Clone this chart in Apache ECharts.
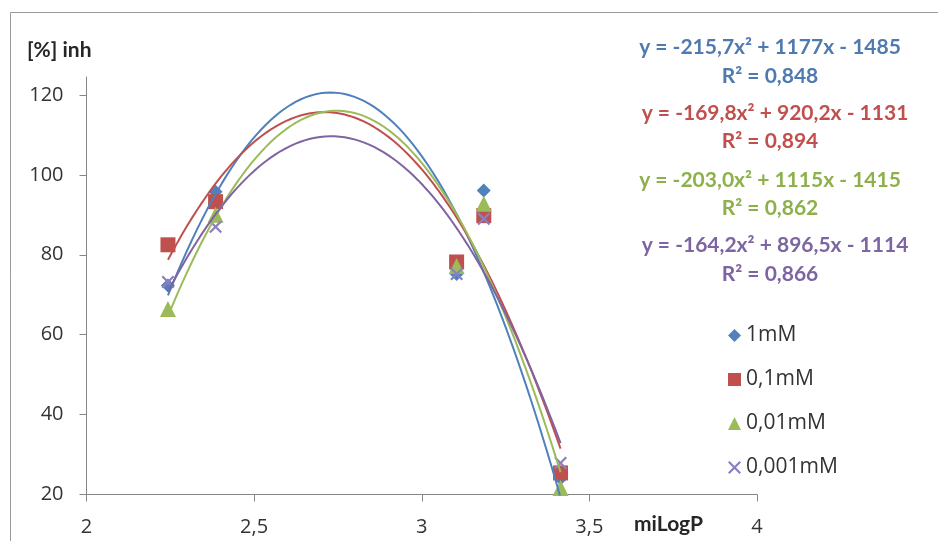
<!DOCTYPE html>
<html>
<head>
<meta charset="utf-8">
<script src="https://cdn.jsdelivr.net/npm/echarts@6/dist/echarts.min.js"></script>
<style>html,body{margin:0;padding:0;background:#fff;}#c{width:938px;height:541px;}</style>
</head>
<body>
<div id="c"></div>
<script>
// ---- data ----
const xValues = [2.243, 2.385, 3.104, 3.185, 3.414];           // miLogP
const seriesNames = ['1mM', '0,1mM', '0,01mM', '0,001mM'];
const y1mM    = [72.3, 95.8, 75.2, 96.1, 24.0];
const y01mM   = [82.5, 93.3, 78.2, 89.8, 25.4];
const y001mM  = [66.4, 90.0, 77.2, 92.8, 21.6];
const y0001mM = [73.2, 87.0, 75.2, 89.0, 27.9];
// polynomial trendline coefficients as printed on the chart: y = a x² + b x + c
const trendA = [-215.7, -169.8, -203.0, -164.2];
const trendB = [1177, 920.2, 1115, 896.5];
const trendC = [-1485, -1131, -1415, -1114];
const trendR2 = ['0,848', '0,894', '0,862', '0,866'];
const trendLabels = [
  'y = -215,7x² + 1177x - 1485',
  'y = -169,8x² + 920,2x - 1131',
  'y = -203,0x² + 1115x - 1415',
  'y = -164,2x² + 896,5x - 1114'
];
const yTicks = [20, 40, 60, 80, 100, 120];
const xTicks = [2, 2.5, 3, 3.5, 4];

const colors = ['#4F81BD', '#C0504D', '#9BBB59', '#8B7FC0'];
const lineColors = ['#4F81BD', '#C0504D', '#9BBB59', '#8064A2'];
const textColors = ['#4F7AB0', '#C0504D', '#8DB04B', '#7D64A2'];
const symbols = ['diamond', 'rect', 'triangle',
  'path://M0,1.2 L1.2,0 L10,8.8 L8.8,10 Z M8.8,0 L10,1.2 L1.2,10 L0,8.8 Z'];
const symbolSizes = [14, 15, 16, 13];
const allY = [y1mM, y01mM, y001mM, y0001mM];

const xMin = Math.min(...xValues), xMax = Math.max(...xValues);
const series = [];
allY.forEach((ys, i) => {
  series.push({
    name: seriesNames[i], type: 'scatter', z: 2,
    symbol: symbols[i], symbolSize: symbolSizes[i],
    itemStyle: { color: colors[i], opacity: 1 },
    data: xValues.map((x, j) => [x, ys[j]])
  });
});
allY.forEach((ys, i) => {
  const pts = [];
  const n = 80;
  for (let k = 0; k <= n; k++) {
    const x = xMin + (xMax - xMin) * k / n;
    pts.push([x, trendA[i] * x * x + trendB[i] * x + trendC[i]]);
  }
  series.push({
    name: 'trend' + i, type: 'line', z: 3, showSymbol: false, silent: true,
    lineStyle: { color: lineColors[i], width: 2 }, data: pts
  });
});

const eqY = [47, 76, 113, 141, 180, 208, 245, 274];
const graphics = [
  { type: 'rect', shape: { x: 10.5, y: 12.5, width: 1000, height: 600 }, style: { fill: 'none', stroke: '#9a9a9a', lineWidth: 1 }, silent: true, z: 0 },
  { type: 'text', left: 27, top: 40, style: { text: '[%] inh', font: 'bold 21px Lato', fill: '#262626' } },
  { type: 'text', left: 634, top: 514, style: { text: 'miLogP', font: 'bold 21px Lato', fill: '#262626' } }
];
trendLabels.forEach((t, i) => {
  graphics.push({ type: 'text', x: i % 2 ? 775 : 770, y: eqY[2 * i],
    style: { text: t, font: 'bold 21px Lato', fill: textColors[i], align: 'center', verticalAlign: 'middle' } });
  graphics.push({ type: 'text', x: 770, y: eqY[2 * i + 1],
    style: { text: 'R² = ' + trendR2[i], font: 'bold 21px Lato', fill: textColors[i], align: 'center', verticalAlign: 'middle' } });
});

const chart = echarts.init(document.getElementById('c'), null, { renderer: 'canvas' });
chart.setOption({
  animation: false,
  backgroundColor: '#fff',
  grid: { left: 86.5, right: 181, top: 77, bottom: 46.5 },
  xAxis: {
    type: 'value', min: 2, max: 4, interval: 0.5,
    axisLine: { lineStyle: { color: '#868686', width: 1 } },
    axisTick: { show: true, length: 7, lineStyle: { color: '#868686' } },
    axisLabel: { margin: 23, fontFamily: 'Open Sans', fontSize: 20, color: '#333',
      customValues: xTicks, formatter: v => String(v).replace('.', ',') },
    splitLine: { show: false }
  },
  yAxis: {
    type: 'value', min: 20, max: 124.5, interval: 20,
    axisLine: { show: true, lineStyle: { color: '#868686', width: 1 } },
    axisTick: { show: true, length: 7, lineStyle: { color: '#868686' }, customValues: yTicks },
    axisLabel: { margin: 23, fontFamily: 'Open Sans', fontSize: 20, color: '#333', customValues: yTicks },
    splitLine: { show: false }
  },
  legend: {
    data: [
      { name: seriesNames[0], itemStyle: {} },
      { name: seriesNames[1] },
      { name: seriesNames[2] },
      { name: seriesNames[3] }
    ],
    orient: 'vertical', left: 723, top: 320,
    itemWidth: 13, itemHeight: 13, itemGap: 23,
    textStyle: { fontFamily: 'Open Sans', fontSize: 21, color: '#333', lineHeight: 20 }
  },
  graphic: graphics,
  series: series
});
</script>
</body>
</html>
